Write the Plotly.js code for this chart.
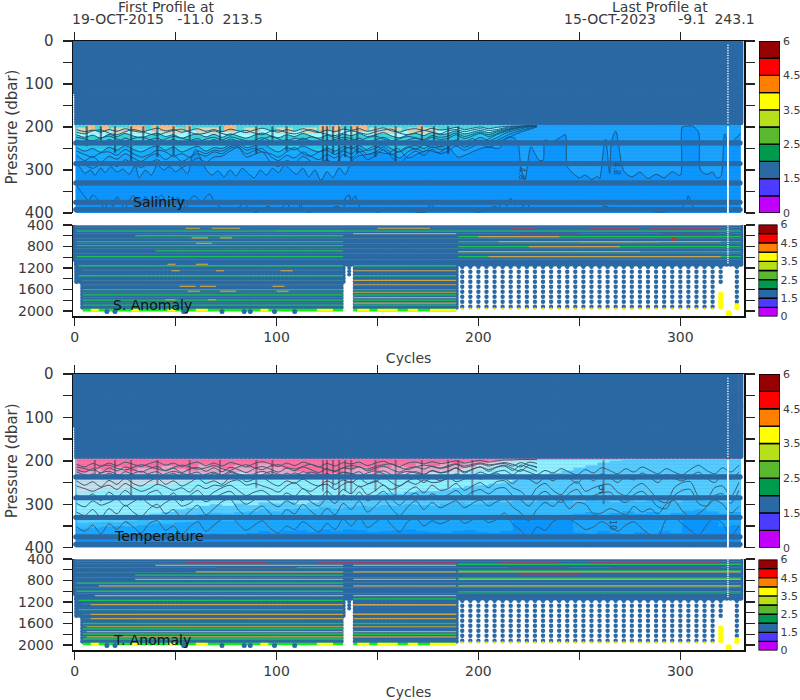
<!DOCTYPE html>
<html><head><meta charset="utf-8">
<script src="https://cdn.plot.ly/plotly-3.0.1.min.js"></script>
<style>html,body{margin:0;padding:0;background:#fff}</style></head>
<body><div id="chart" style="width:800px;height:700px"></div>
<script>
// ---------- colour scale ----------
const bandColors=['#c000f8','#4b3cff','#2a69a3','#009a4e','#5ab82e','#b6e019','#ffff00','#ff8000','#ff0000','#960000'];
const bandTickPos=[0,2,4,6,8,10];
const bandTickText=['0','1.5','2.5','3.5','4.5','6'];
// ---------- axis ticks ----------
const cycleTicks=[0,50,100,150,200,250,300];
const cycleLabels=['0','','100','','200','','300'];
const upperTicks=[0,50,100,150,200,250,300,350,400];
const upperLabels=['0','','100','','200','','300','','400'];
const lowerTicks=[400,600,800,1000,1200,1400,1600,1800,2000];
const lowerLabels=['400','','800','','1200','','1600','','2000'];
// ---------- sampled pressure rows ----------
const thickRows=[237,285,330,375,392];
const anomalyColumnLevels=[1176,1269,1362,1455,1548,1641,1734,1827,1920];
const bottomDots=[16,20,54,55,73,84,87,99,109];
const gapColumnLevels=[1080,1140,1200,1260,1320];
const upperTexture=[445,490,560,650,745,840,930,1040];
const lowerTexture=[1240,1430,1510,1650,1750,1845];
// ---------- salinity contours (dbar), every 4 cycles from cycle 1 ----------
const sA=[206,211,207,212,206,210,204,209,212,207,203,209,206,212,208,204,210,206,211,205,209,213,207,203,208,212,206,210,204,209,213,207,211,205,208,204,210,206,202,209,212,206,204,208,203,207,205,201,206,203,200,204,201,199,198,198,197,197];
const sA2=[212,216,209,207,214,218,211,206,210,216,219,213,208,205,212,217,214,209,215,219,212,208,214,218,210,207,213,216,211,206,212,217,220,214,209,213,217,211,207,205,214,218,213,208,212,216,209,206,211,207,204,208,206,202,199,198,197,197];
const sB=[218,224,219,226,217,222,215,221,225,219,214,222,218,226,220,216,223,217,224,216,221,226,219,214,220,225,218,222,215,221,226,219,224,217,220,215,222,218,213,221,225,218,215,220,213,218,215,209,216,212,208,213,209,204,201,199,197,197];
const sC2=[224,228,232,226,221,228,233,227,223,229,234,228,222,226,231,235,228,224,230,223,227,232,236,229,222,228,233,226,230,223,228,234,229,224,227,232,225,221,228,233,227,222,225,229,220,224,221,214,222,217,212,218,212,207,203,200,198,197];
const sC=[230,236,231,238,229,235,226,233,238,230,226,234,229,238,232,227,236,229,237,228,233,239,231,225,232,238,229,234,226,233,238,230,236,228,232,226,235,230,224,233,238,230,226,232,224,229,226,218,227,221,215,222,216,209,204,201,198,197];
const sD=[248,256,250,259,247,254,243,252,258,249,244,254,247,258,251,245,256,248,250,241,236,248,244,238,250,258,248,253,244,252,258,249,256,246,250,243,254,249,241,251,258,248,243,250,240,246,241,230,240,234,224,232,225,215,209,204,200,197];
const sD2=[256,264,270,260,258,266,252,262,270,264,254,258,268,262,270,256,262,254,256,246,242,254,250,258,262,270,258,248,262,268,258,254,264,252,246,258,252,244,254,264,256,246,252,242,248,245,234,243,237,227,236,228,218,211,206,201,198,197];
const sE=[266,278,269,282,268,275,262,272,280,268,262,276,266,280,271,262,268,258,262,250,246,262,255,250,268,278,266,272,258,268,276,264,272,256,262,250,264,258,246,262,272,258,250,258,246,252,248,236,247,240,231,240,232,222,214,208,203,198];
const sE2=[280,288,296,286,282,292,276,286,294,284,276,290,280,294,284,272,282,270,268,256,248,270,264,258,282,292,278,284,268,280,290,276,286,264,272,258,276,266,252,270,284,268,256,266,252,262,256,244,254,246,238,248,238,228,220,212,206,200];
const sFCycle=[1,3,5,8,10,13,15,18,21,24,27,30,32,35,38,41,44,47,50,53,56,58,60,62,65,68,71,74,77,80,83,86,89,92,95,98,101,104,107,110,113,116,119,122,125,128,131,134,137,140,145,150,155,160,165,170,175,180,185,190,195,200,205,210,214,217,219,220,221,223,226,228,230,232,233,236,240,243,244,247,250,253,256,259,260,262,263,265,266,268,272,276,280,284,288,292,296,300,301,303,306,309,310,313,316,318,320,322,324,327,330];
const sFPress=[285,296,308,300,312,295,306,292,305,298,310,290,318,300,312,288,300,292,304,296,308,270,252,268,298,312,302,316,300,314,296,308,318,300,312,296,306,288,300,310,296,316,300,324,304,318,295,310,280,268,264,258,262,250,272,262,254,260,248,270,262,252,246,250,225,224,232,246,292,323,246,262,277,278,230,236,226,218,292,308,318,312,322,315,320,250,228,308,232,210,302,316,305,320,310,318,304,312,200,198,198,212,300,310,305,318,315,216,240,228,215];
const sGCycle=[1,3,5,7,9,11,13,15,17,19,21,23,25,27,29,31,33,35,37,39,41,43,45,47,49,51,53,55,57,59,61,63,65,67,69,72,75,78,81,84,87,90,93,96,99,102,105,108,111,112,113,116,120,125,130,133,134,136,137,139,140,142,144,146,150,155,160,165,170,175,176,180,185,190,195,200,205,208,210,212,214,215,216,218,220,222,224,226,230,240,250,260,262,270,280,290,300,303,304,306,310,320,330];
const sGPress=[335,350,362,372,358,366,378,390,370,385,362,378,388,372,360,368,382,362,372,385,368,358,372,384,376,364,372,388,370,360,366,378,362,356,372,386,392,396,388,378,394,398,392,384,396,390,378,396,388,376,392,398,394,396,384,392,366,358,372,360,374,392,396,390,398,392,396,394,398,396,380,394,392,396,394,398,392,384,388,370,384,376,366,382,372,384,378,392,396,394,396,392,384,396,394,398,390,374,360,384,394,396,392];
const sStreakCycle=[6,13,20,28,34,41,49,57,72,90,98,105,123,125,128,131,134,137,140,149,159,172,178,185,190];
const sStreakBottom=[245,240,260,285,240,270,265,238,240,262,240,255,280,285,262,290,270,280,262,270,285,238,240,262,240];
const sPeachStart=[6,13,27,38,42,55,74,121,127,137,170];
const sPeachEnd=[10,17,35,41,50,58,80,126,132,145,173];
const sTanStart=[1,18,45,60,84,100,112,146,165];
const sTanEnd=[6,26,54,72,92,108,120,162,180];
// ---------- temperature filled bands (dbar), every 6 cycles from cycle 1 ----------
const tB1=[372,374,370,372,375,370,372,368,372,374,370,368,372,370,366,362,366,362,360,364,358,362,358,360,364,362,360,358,362,364,366,362,360,364,366,362,335,332,336,334,332,365,368,362,366,370,364,368,362,366,335,332,336,352,348,354];
const tB2=[356,354,352,350,352,348,344,346,342,340,336,334,338,336,330,326,332,328,326,330,326,330,332,334,330,336,334,330,332,334,330,334,332,330,334,332,328,326,330,328,326,322,318,324,320,316,322,318,324,320,315,312,316,322,318,320];
const tB3=[344,342,340,342,338,336,338,334,330,328,322,320,322,318,316,312,316,312,310,312,306,310,306,304,306,302,304,300,302,304,298,296,300,298,294,296,292,296,290,294,290,296,288,292,296,290,294,288,292,296,288,286,292,296,290,294];
const tB4=[332,330,328,330,326,328,322,318,312,308,304,300,304,298,302,296,298,294,300,296,292,288,284,282,278,274,276,272,268,270,266,262,258,256,252,250,244,238,232,228,222,216,210,204,200,198,197,197,197,197,197,197,197,197,197,197];
const tB5=[274,270,266,268,262,258,254,256,250,246,244,248,246,240,244,238,242,246,240,244,248,242,246,240,244,238,242,236,240,238,232,228,224,220,214,210,204,200,198,197,197,197,197,197,197,197,197,197,197,197,197,197,197,197,197,197];
const tB6=[240,238,236,238,232,236,234,230,234,236,230,228,232,226,230,228,234,230,236,232,238,234,236,232,234,230,232,228,230,226,222,218,214,208,204,200,198,197,197,197,197,197,197,197,197,197,197,197,197,197,197,197,197,197,197,197];
const tB7=[226,218,222,214,224,216,220,212,218,222,208,214,218,210,216,206,214,218,224,232,236,228,220,214,222,216,210,214,206,212,204,208,202,204,199,197,197,197,197,197,197,197,197,197,197,197,197,197,197,197,197,197,197,197,197,197];
// ---------- temperature contours (dbar), every 4 cycles from cycle 1 ----------
const tLa=[208,214,206,212,205,211,203,208,213,206,202,210,205,213,207,203,211,205,212,204,208,214,206,202,207,213,205,211,203,208,214,206,212,204,207,203,211,205,201,208,213,205,203,207,202,206,204,200,205,202,199,203,200,198,198,197,197,197];
const tLa2=[214,218,222,213,210,217,221,215,209,213,219,222,215,210,214,219,216,211,218,222,214,209,216,220,212,209,215,219,213,208,214,220,223,216,211,214,219,213,209,207,215,220,214,210,213,217,211,207,212,208,205,209,207,204,208,214,203,206];
const tLb=[220,226,218,228,216,223,214,220,226,218,213,223,217,227,219,215,224,216,225,215,220,227,218,213,219,226,217,223,214,220,227,218,225,216,219,214,223,217,212,220,226,217,214,219,212,217,214,208,215,211,207,212,208,206,212,204,210,214];
const tLc2=[226,232,236,228,224,231,237,229,224,232,237,230,224,229,233,238,231,226,233,224,230,235,240,232,225,231,236,228,233,226,231,237,232,226,229,235,228,223,230,236,229,224,228,232,222,227,223,216,225,219,214,220,214,210,218,224,210,216];
const tLc=[232,238,230,240,228,236,225,232,240,229,225,236,228,240,231,226,238,228,239,227,232,241,230,224,231,240,228,236,225,232,240,229,238,227,231,225,237,229,223,232,240,229,225,231,223,228,225,217,228,220,214,224,215,212,222,210,216,224];
const tLd=[246,256,248,260,245,254,240,252,258,247,240,254,246,258,250,240,252,246,254,238,236,248,242,238,250,258,246,252,242,252,258,246,254,244,250,240,252,248,238,250,258,246,240,250,238,246,240,230,240,234,226,232,225,222,232,220,226,232,222,228,218,226,232,220,228,216,222,230,218,226,214,222,230,218,226,232,220,210,222,230,216,226,210];
const tLd2=[258,264,270,262,256,266,252,262,270,264,254,260,268,262,272,256,264,256,258,248,244,256,252,258,264,272,258,250,264,270,258,254,266,254,248,260,254,246,256,266,258,248,254,244,250,248,238,248,242,234,242,236,228,240,252,238,242,252,238,246,234,240,252,232,246,230,238,250,236,244,228,238,250,232,240,246,236,226,240,250,232,242,226];
const tLe=[278,288,276,292,272,284,268,282,290,274,268,286,274,292,280,268,284,272,262,256,268,280,272,268,280,288,274,282,264,278,288,270,284,266,276,258,278,268,256,274,288,270,260,274,256,268,264,252,268,258,250,262,248,246,262,270,286,262,252,268,278,258,248,270,262,256,254,272,280,262,252,268,290,296,262,250,248,282,288,262,258,282,250];
const tLe2=[298,306,292,302,296,288,304,294,286,300,308,296,288,304,298,284,294,286,276,270,286,300,290,282,296,306,292,300,280,294,304,286,298,278,290,272,292,282,270,288,302,284,274,290,276,284,278,268,282,272,266,276,264,262,280,290,304,282,270,284,296,274,266,288,280,274,272,288,296,278,270,286,306,310,280,268,266,298,304,280,276,298,268];
const tLf=[318,326,312,330,310,322,302,318,328,310,300,322,312,330,316,302,324,310,294,288,312,328,314,304,322,332,312,322,300,316,328,310,324,298,312,292,318,304,288,310,326,306,292,312,296,308,300,292,308,298,290,304,294,288,306,320,338,312,296,305,290,310,296,300,322,320,310,316,325,305,318,310,322,300,292,315,330,322,306,290,300,320,305];
const tLg=[352,362,348,368,345,358,340,352,366,344,338,360,350,370,352,340,362,348,334,326,345,360,348,338,356,366,350,358,340,352,364,344,358,334,350,330,354,342,330,348,364,340,332,350,338,345,338,328,344,336,330,342,335,320,345,360,378,352,360,340,332,334,345,358,352,340,350,362,348,340,356,370,375,335,330,345,360,372,348,330,345,372,350];
const tStreakCycle=[10,20,28,41,57,72,90,98,123,125,128,131,134,137,149,159,172,185,190,197,262];
const tStreakBottom=[240,235,280,255,232,236,262,236,270,285,262,280,268,275,270,285,238,262,240,290,300];
// ---------- anomaly strips: level, first cycle, last cycle ----------
const sGreenLevel=[512,710,785,989,1157,1343,1600,1700,1795,1888,512,617,710,803,896,989,1157,1343,1600,1700,1795,1888,600,880];
const sGreenStart=[1,1,1,1,2,2,4,4,4,4,100,190,190,190,190,190,138,138,138,138,138,138,30,40];
const sGreenEnd=[133,133,133,133,133,133,133,133,133,133,330,330,330,330,330,330,189,189,189,189,189,189,133,133];
const sWarmLevel=[460,460,640,640,740,1130,1130,1250,1250,1250,1540,1540,1540,1630,1630,1630,1790,1790,460,617,710,803,896,989,710,1250,1430,1510,1650,1750,1850,560];
const sWarmStart=[55,68,58,72,60,46,60,48,70,102,52,62,98,56,72,100,45,66,150,200,210,225,190,205,250,138,138,138,138,138,138,138];
const sWarmEnd=[62,82,66,78,68,50,66,52,74,108,60,70,104,62,80,106,50,70,176,240,290,270,280,320,320,189,189,189,189,189,189,189];
const sHotLevel=[470,470,470,560,560];
const sHotStart=[216,255,285,220,290];
const sHotEnd=[228,280,320,250,318];
const tGreenLevel=[560,700,850,1000,1170,1340,1600,1700,1795,1888,500,620,760,900,1010,1140,1260,1420,1600,1800];
const tGreenStart=[70,30,1,1,2,2,4,4,4,4,190,190,190,190,190,138,138,138,138,138];
const tGreenEnd=[133,133,133,133,133,133,133,133,133,133,330,330,330,330,330,189,189,189,189,189];
const tWarmLevel=[520,640,780,900,1080,1250,1430,1510,1660,1750,1850,520,640,780,900,1080,1250,1430,1510,1660,1750,1850,640,780,900];
const tWarmStart=[40,60,30,12,10,8,8,8,6,6,6,138,138,138,138,138,138,138,138,138,138,138,190,190,190];
const tWarmEnd=[133,133,133,133,133,133,133,133,133,133,133,189,189,189,189,189,189,189,189,189,189,189,330,330,330];
const tHotLevel=[470,470,470,470,560,560,560,700];
const tHotStart=[55,120,210,255,70,215,265,220];
const tHotEnd=[95,190,240,320,110,245,320,250];
const bottomGreenStart=[4,138];
const bottomGreenEnd=[133,189];
const bottomYellowStart=[8,28,46,60,92,120,140,150,165,176];
const bottomYellowEnd=[12,32,50,66,96,128,146,160,170,189];
// ---------- colours ----------
const dotBlue='#2a69a3';
const sFills=['#0c96ff','#1aa3ff','#16aeff','#2ac6ee','#38d4d8','#a6ffff','#4cdcdc'];
const tFills=['#0a96ff','#1aa8ff','#35bcff','#55ccff','#90f0ff','#c8e0ea','#eaa8c8','#ff6fa0'];

function seq(a,b,s){const r=[];for(let v=a;v<=b;v+=s)r.push(v);return r;}
function gridAt(arr,start,step){return arr.map((_,i)=>Math.min(330,start+step*i));}
function grid(cs,ps,color,size,xa,ya,symbol){
  const x=[],y=[];ps.forEach(p=>cs.forEach(c=>{x.push(c);y.push(p);}));
  return {type:'scatter',mode:'markers',x,y,xaxis:xa,yaxis:ya,hoverinfo:'skip',showlegend:false,
    marker:{color,size,symbol:symbol||'circle',line:{width:0}}};
}
function fillTo(x,y,color,xa,ya,shape){
  return {type:'scatter',mode:'lines',x,y,xaxis:xa,yaxis:ya,fill:'tozeroy',fillcolor:color,hoverinfo:'skip',showlegend:false,
    line:{width:0,color,shape:shape||'spline',smoothing:0.7}};
}
function line(x,y,color,w,xa,ya,spline){
  const l={color,width:w};if(spline){l.shape='spline';l.smoothing=0.8;}
  return {type:'scatter',mode:'lines',x,y,xaxis:xa,yaxis:ya,hoverinfo:'skip',showlegend:false,line:l};
}
function segments(level,start,end,color,w,xa,ya){
  const x=[],y=[];level.forEach((p,i)=>{x.push(start[i],end[i],null);y.push(p,p,null);});
  return line(x,y,color,w,xa,ya);
}
function vertical(c,top,bottom,color,w,xa,ya){
  const x=[],y=[];c.forEach((v,i)=>{x.push(v,v,null);y.push(top,bottom[i],null);});
  return line(x,y,color,w,xa,ya);
}
function colorBar(xa,ya){
  return {type:'bar',x:bandColors.map(()=>0),y:bandColors.map(()=>1),base:bandColors.map((_,i)=>i),width:1,xaxis:xa,yaxis:ya,
    hoverinfo:'skip',showlegend:false,marker:{color:bandColors,line:{color:'#000',width:1.3}}};
}
const fineLevels=seq(2,192,4);
const lightStripes=seq(200,396,8);

function upperCommon(xa,ya){
  const t=[];
  t.push(grid(seq(0.6,329,2).concat([330]),fineLevels.filter(p=>p>=125),dotBlue,5,xa,ya));
  t.push(grid(seq(-0.4,329,2).concat([330]),fineLevels.filter(p=>p<125),dotBlue,5,xa,ya));
  t.push(grid(seq(0.6,330,1),thickRows,dotBlue,5.2,xa,ya));
  // white gaps
  t.push(vertical([323.6],198,[400],'#fff',1.8,xa,ya));
  t.push(grid([323.6],seq(10,192,6),'#fff',1.6,xa,ya));
  t.push(grid([-0.5],seq(125,197,4),'#fff',1.6,xa,ya));
  return t;
}
const traces=[];
// ---- Salinity panel ----
{
  const xa='x',ya='y';
  traces.push(fillTo([0.4,330],[400,400],sFills[0],xa,ya,'linear'));
  traces.push(fillTo(sFCycle,sFPress,sFills[1],xa,ya));
  traces.push(fillTo(gridAt(sE,1,4),sE,sFills[2],xa,ya));
  traces.push(fillTo(gridAt(sD,1,4),sD,sFills[3],xa,ya));
  traces.push(fillTo(gridAt(sC,1,4),sC,sFills[4],xa,ya));
  traces.push(fillTo(gridAt(sB,1,4),sB,sFills[5],xa,ya));
  traces.push(fillTo(gridAt(sA,1,4),sA,sFills[6],xa,ya));
  traces.push(segments(sTanStart.map(()=>208),sTanStart,sTanEnd,'#d8d8b0',6,xa,ya));
  traces.push(segments(sPeachStart.map(()=>204),sPeachStart,sPeachEnd,'#ffbf80',7,xa,ya));
  const lc='#1a5580';
  [sA,sA2,sB,sC2,sC,sD,sD2,sE,sE2].forEach(a=>traces.push(line(gridAt(a,1,4),a,lc,1,xa,ya,true)));
  traces.push(line(sFCycle,sFPress,lc,1,xa,ya,true));
  traces.push(line(sGCycle,sGPress,lc,1,xa,ya,true));
  traces.push(vertical(sStreakCycle,198,sStreakBottom,'rgba(24,52,76,0.65)',2.2,xa,ya));
  traces.push(segments(lightStripes,lightStripes.map(()=>0.4),lightStripes.map(()=>330),'rgba(42,105,163,0.12)',1,xa,ya));
  upperCommon(xa,ya).forEach(t=>traces.push(t));
}
// ---- Temperature panel ----
{
  const xa='x3',ya='y3';
  traces.push(fillTo([0.4,330],[400,400],tFills[0],xa,ya,'linear'));
  [tB1,tB2,tB3,tB4,tB5,tB6,tB7].forEach((a,i)=>traces.push(fillTo(gridAt(a,1,6),a,tFills[i+1],xa,ya,'hv')));
  const lc='#3c5a70';
  [tLa,tLa2,tLb,tLc2,tLc,tLd,tLd2,tLe,tLe2,tLf,tLg].forEach(a=>traces.push(line(gridAt(a,1,4),a,lc,1,xa,ya,true)));
  traces.push(vertical(tStreakCycle,198,tStreakBottom,'rgba(70,50,70,0.5)',2,xa,ya));
  traces.push(segments(lightStripes,lightStripes.map(()=>0.4),lightStripes.map(()=>330),'rgba(42,105,163,0.10)',1,xa,ya));
  upperCommon(xa,ya).forEach(t=>traces.push(t));
}
// ---- Anomaly panels ----
function anomaly(xa,ya,gL,gS,gE,wL,wS,wE,hL,hS,hE){
  const all=seq(1,329,2).concat([330]);
  const left=seq(1,133,2).concat(seq(139,189,2));
  const left2=seq(4,133,2).concat(seq(139,189,2));
  traces.push(grid(seq(0.4,329,2).concat([330]),seq(410,1050,40),dotBlue,5,xa,ya));
  traces.push(grid(all,[1090,1130],dotBlue,5,xa,ya));
  traces.push(grid(left,seq(1150,1480,60),dotBlue,5,xa,ya));
  traces.push(grid(left2,seq(1510,1930,60),dotBlue,5,xa,ya));
  const cols=seq(192,316,4);
  traces.push(grid(cols,anomalyColumnLevels,dotBlue,4.4,xa,ya));
  traces.push(grid([328],anomalyColumnLevels.slice(0,8),dotBlue,4.4,xa,ya));
  traces.push(grid([320],anomalyColumnLevels.slice(0,4),dotBlue,4.4,xa,ya));
  traces.push(grid([136],gapColumnLevels,dotBlue,4,xa,ya));
  traces.push(grid(cols,[1955],'#ffe600',2.6,xa,ya));
  traces.push(grid([320],[1680,1740,1800,1860,1920],'#ffff00',5,xa,ya));
  traces.push(grid([324],[2040,2065],'#ffff00',6,xa,ya));
  traces.push(grid([328],[1900,1940],'#ffff00',5,xa,ya));
  traces.push(segments([402],[0.4],[330],'#7fa6c4',1.2,xa,ya));
  traces.push(segments(upperTexture,upperTexture.map(()=>0.4),upperTexture.map(()=>330),'rgba(150,190,150,0.28)',0.8,xa,ya));
  traces.push(segments(lowerTexture,lowerTexture.map(()=>4),lowerTexture.map(()=>133),'rgba(150,190,150,0.28)',0.8,xa,ya));
  traces.push(segments(gL,gS,gE,'#1cc052',1.3,xa,ya));
  traces.push(segments(wL,wS,wE,'#c8a448',1.2,xa,ya));
  traces.push(segments(hL,hS,hE,'#a83a66',1.2,xa,ya));
  traces.push(segments(bottomGreenStart.map(()=>1982),bottomGreenStart,bottomGreenEnd,'#10ee10',2.6,xa,ya));
  traces.push(segments(bottomYellowStart.map(()=>1982),bottomYellowStart,bottomYellowEnd,'#ffff00',2.6,xa,ya));
  traces.push(grid(bottomDots,[2008],dotBlue,5,xa,ya));
  traces.push(grid([323.6],seq(420,1120,40),'#fff',1.6,xa,ya));
}
anomaly('x2','y2',sGreenLevel,sGreenStart,sGreenEnd,sWarmLevel,sWarmStart,sWarmEnd,sHotLevel,sHotStart,sHotEnd);
traces.push(grid([297],[660],'#ff2000',4,'x2','y2'));
anomaly('x4','y4',tGreenLevel,tGreenStart,tGreenEnd,tWarmLevel,tWarmStart,tWarmEnd,tHotLevel,tHotStart,tHotEnd);
// ---- colour bars ----
traces.push(colorBar('x5','y5'),colorBar('x6','y6'),colorBar('x7','y7'),colorBar('x8','y8'));

// ---------- layout ----------
const FONT='DejaVu Sans',INK='#3a3a3a';
function dom(a,b,tot){return [a/tot,b/tot];}
function ydom(top,bottom){return [1-bottom/700,1-top/700];}
const xd=dom(73,744.3,800),xRange=[-0.8,331.7];
function xAxis(extra){return Object.assign({domain:xd,range:xRange,tickmode:'array',tickvals:cycleTicks,ticks:'outside',ticklen:8,tickwidth:1.3,tickcolor:'#222',
  linecolor:'#111',linewidth:1.5,showline:true,showgrid:false,zeroline:false,tickfont:{family:FONT,size:14,color:INK}},extra);}
function yAxis(extra){return Object.assign({tickmode:'array',ticks:'outside',ticklen:9,tickwidth:1.3,tickcolor:'#222',linecolor:'#111',linewidth:1.5,showline:true,
  mirror:'ticks',showgrid:false,zeroline:false,ticklabelstandoff:6,tickfont:{family:FONT,size:15,color:INK}},extra);}
function barX(a,b){return {domain:[a/800,b/800],range:[-0.5,0.5],visible:false,fixedrange:true};}
function barY(anchor,top,bottom,size){return {domain:ydom(top,bottom),range:[0,10],anchor,side:'right',tickmode:'array',tickvals:bandTickPos,ticktext:bandTickText,
  ticks:'',showgrid:false,zeroline:false,showline:false,ticklabelstandoff:2,tickfont:{family:FONT,size,color:INK}};}
const pressureTitle=()=>({text:'Pressure (dbar)',font:{family:FONT,size:15,color:INK},standoff:3});
const cyclesTitle=()=>({text:'Cycles',font:{family:FONT,size:14,color:INK},standoff:9});
function ann(text,px,py,size,extra){return Object.assign({text,xref:'paper',yref:'paper',x:px/800,y:1-py/700,showarrow:false,xanchor:'center',yanchor:'middle',
  font:{family:FONT,size,color:INK}},extra||{});}
const layout={
  width:800,height:700,margin:{l:0,r:0,t:0,b:0},paper_bgcolor:'#fff',plot_bgcolor:'#fff',showlegend:false,hovermode:false,bargap:0,barmode:'overlay',
  xaxis:xAxis({anchor:'y',side:'top',ticktext:cycleLabels.map(()=>''),showticklabels:false}),
  yaxis:yAxis({domain:ydom(41,213),range:[400,0],anchor:'x',tickvals:upperTicks,ticktext:upperLabels,title:pressureTitle()}),
  xaxis2:xAxis({anchor:'y2',ticktext:cycleLabels,title:cyclesTitle()}),
  yaxis2:yAxis({domain:ydom(225,316),range:[2091,400],anchor:'x2',tickvals:lowerTicks,ticktext:lowerLabels,tickfont:{family:FONT,size:14,color:INK}}),
  xaxis3:xAxis({anchor:'y3',side:'top',ticktext:cycleLabels.map(()=>''),showticklabels:false}),
  yaxis3:yAxis({domain:ydom(374,547.7),range:[400,0],anchor:'x3',tickvals:upperTicks,ticktext:upperLabels,title:pressureTitle()}),
  xaxis4:xAxis({anchor:'y4',ticktext:cycleLabels,title:cyclesTitle()}),
  yaxis4:yAxis({domain:ydom(559,650),range:[2093,400],anchor:'x4',tickvals:lowerTicks,ticktext:lowerLabels,tickfont:{family:FONT,size:14,color:INK}}),
  xaxis5:barX(759,780),yaxis5:barY('x5',41,213,11),
  xaxis6:barX(758.5,777.5),yaxis6:barY('x6',224.5,316.5,11),
  xaxis7:barX(759,780),yaxis7:barY('x7',374,547.7,11),
  xaxis8:barX(758.5,777.5),yaxis8:barY('x8',559.5,650.5,11),
  annotations:[
    ann('First Profile at',166,7.5,14),
    ann('19-OCT-2015\u00A0\u00A0\u00A0-11.0\u00A0\u00A0213.5',167,19.5,14),
    ann('Last Profile at',660,7.5,14),
    ann('15-OCT-2023\u00A0\u00A0\u00A0\u00A0\u00A0-9.1\u00A0\u00A0243.1',659.5,19.5,14),
    ann('Salinity',159,202,14,{font:{family:FONT,size:14,color:'#111'}}),
    ann('S. Anomaly',152,305,14,{font:{family:FONT,size:14,color:'#111'}}),
    ann('Temperature',159,536,14,{font:{family:FONT,size:14,color:'#111'}}),
    ann('T. Anomaly',152,640,14,{font:{family:FONT,size:14,color:'#111'}}),
    ann('4.8',521,173,8,{textangle:90,font:{family:FONT,size:8,color:'#1f4f78'}}),
    ann('4.8',617,168,8,{textangle:90,font:{family:FONT,size:8,color:'#1f4f78'}}),
    ann('9',601,489,10,{font:{family:FONT,size:10,color:'#1f4f78'}}),
    ann('10',613,525,8,{textangle:90,font:{family:FONT,size:8,color:'#1f4f78'}})
  ]
};
Plotly.newPlot('chart',traces,layout,{displayModeBar:false,staticPlot:true,responsive:false});
</script></body></html>
